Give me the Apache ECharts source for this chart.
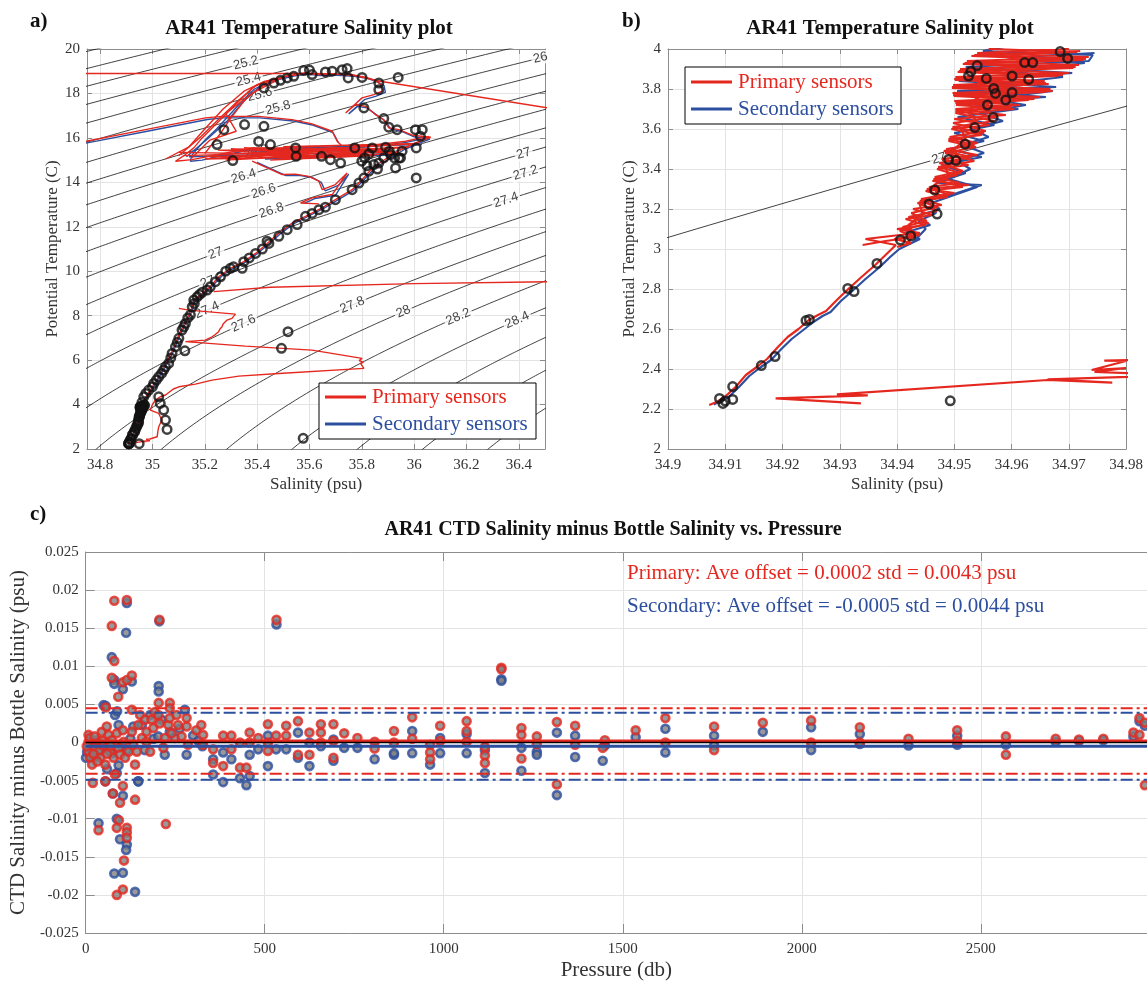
<!DOCTYPE html>
<html>
<head>
<meta charset="utf-8">
<script src="https://cdn.jsdelivr.net/npm/echarts@6/dist/echarts.min.js"></script>
<style>
  html, body { margin: 0; padding: 0; background: #fff; }
  #chart { width: 1147px; height: 982px; }
</style>
</head>
<body>
<div id="chart"></div>
<script>
// ---------------------------------------------------------------
// AR41 CTD / bottle salinity comparison
// ---------------------------------------------------------------

// Isopycnal (sigma-theta) levels drawn behind the T-S diagrams
const sigmaLevels = [24.4, 24.6, 24.8, 25.0, 25.2, 25.4, 25.6, 25.8, 26.0, 26.2, 26.4, 26.6, 26.8,
  27.0, 27.2, 27.4, 27.6, 27.8, 28.0, 28.2, 28.4, 28.6, 28.8, 29.0, 29.2, 29.4];

// Contour labels: [sigma level, potential temperature where the label sits]
const contourLabelsA = [[25.2, 19.37], [25.4, 18.62], [25.6, 17.95], [25.8, 17.35], [26.0, 19.6],
  [26.2, 15.35], [26.4, 14.27], [26.6, 13.6], [26.8, 12.73], [27.0, 15.3], [27.2, 14.42], [27.4, 13.2],
  [27.0, 10.8], [27.2, 9.6], [27.4, 8.25], [27.6, 7.65], [27.8, 8.48], [28.0, 8.18], [28.2, 7.95], [28.4, 7.8]];
const contourLabelsB = [[27.8, 3.46]];

// Tick labels
const salTicksA = [34.8, 35, 35.2, 35.4, 35.6, 35.8, 36, 36.2, 36.4];
const tempTicksA = [2, 4, 6, 8, 10, 12, 14, 16, 18, 20];
const salTicksB = [34.9, 34.91, 34.92, 34.93, 34.94, 34.95, 34.96, 34.97, 34.98];
const tempTicksB = [2, 2.2, 2.4, 2.6, 2.8, 3, 3.2, 3.4, 3.6, 3.8, 4];
const pressureTicks = [0, 500, 1000, 1500, 2000, 2500];
const diffTicks = [-0.025, -0.02, -0.015, -0.01, -0.005, 0, 0.005, 0.01, 0.015, 0.02, 0.025];

// Primary (sensor 1) CTD traces, [salinity, potential temperature]
const primaryProfile = [[34.9072,2.22],[34.9085,2.235],[34.9099,2.26],[34.9118,2.31],[34.9136,2.37],[34.9155,2.41],
  [34.9173,2.45],[34.9192,2.51],[34.9209,2.56],[34.9228,2.60],[34.9246,2.645],[34.9262,2.67],[34.9276,2.69],
  [34.9295,2.745],[34.9313,2.795],[34.9338,2.86],[34.9362,2.92],[34.9380,2.97],[34.9398,3.02],[34.9345,3.05],
  [34.9405,3.07],[34.9440,3.08],[34.9400,3.10],[34.9450,3.12],[34.9415,3.15],[34.9462,3.17],[34.9428,3.20],
  [34.9478,3.22],[34.9442,3.25],[34.9500,3.28],[34.9452,3.30],[34.9525,3.32],[34.9462,3.34],[34.9505,3.37],
  [34.9470,3.40],[34.9525,3.42],[34.9478,3.45],[34.9540,3.47],[34.9486,3.50],[34.9535,3.52],[34.9490,3.55],
  [34.9548,3.57],[34.9495,3.60],[34.9562,3.62],[34.9500,3.65],[34.9590,3.67],[34.9502,3.70],[34.9615,3.72],
  [34.9500,3.74],[34.9650,3.76],[34.9497,3.78],[34.9668,3.80],[34.9498,3.82],[34.9658,3.84],[34.9502,3.86],
  [34.9700,3.88],[34.9510,3.90],[34.9718,3.92],[34.9522,3.94],[34.9735,3.96],[34.9540,3.98],[34.9700,4.00],
  [34.962,4.05],[34.970,4.25],[34.980,4.45],[34.992,4.65],[35.005,4.9],[35.018,5.15],[35.030,5.4],[35.045,5.7],
  [35.062,6.07],[35.075,6.4],[35.088,6.75],[35.100,7.1],[35.113,7.43],[35.126,7.75],[35.139,8.03],[35.150,8.35],
  [35.158,8.7],[35.190,9.0],[35.221,9.3],[35.253,9.75],[35.298,10.13],[35.349,10.43],[35.394,10.8],[35.432,11.18],
  [35.483,11.72],[35.534,12.17],[35.585,12.47],[35.648,12.85],[35.699,13.22],[35.763,13.67],[35.801,14.12],
  [35.840,14.64],[35.878,14.95],[35.916,15.25],[35.961,15.55],[36.005,15.77],[36.063,16.03]];
const primaryBand = [[34.9340,3.02],[34.9380,3.04],[34.9432,3.06],[34.9405,3.09],[34.9455,3.13],[34.9420,3.16],
  [34.9470,3.19],[34.9436,3.23],[34.9490,3.27],[34.9456,3.31],[34.9510,3.33],[34.9466,3.36],[34.9515,3.39],
  [34.9474,3.43],[34.9530,3.46],[34.9482,3.49],[34.9540,3.53],[34.9492,3.56],[34.9555,3.59],[34.9498,3.63],
  [34.9575,3.66],[34.9502,3.69],[34.9600,3.71],[34.9502,3.73],[34.9640,3.75],[34.9498,3.77],[34.9672,3.79],
  [34.9496,3.81],[34.9660,3.83],[34.9500,3.85],[34.9690,3.87],[34.9508,3.89],[34.9712,3.91],[34.9518,3.93],
  [34.9730,3.95],[34.9535,3.97],[34.9720,3.99]];
const primaryBandB = [[34.9400,3.01],[34.9425,3.03],[34.9395,3.05],[34.9440,3.07],[34.9410,3.11],[34.9452,3.14],
  [34.9425,3.18],[34.9472,3.21],[34.9440,3.24],[34.9488,3.26],[34.9450,3.29],[34.9515,3.31],[34.9464,3.35],
  [34.9512,3.38],[34.9472,3.41],[34.9535,3.44],[34.9484,3.48],[34.9538,3.51],[34.9490,3.54],[34.9552,3.58],
  [34.9497,3.61],[34.9570,3.64],[34.9502,3.68],[34.9605,3.70],[34.9503,3.72],[34.9630,3.745],[34.9499,3.765],
  [34.9660,3.785],[34.9496,3.805],[34.9665,3.825],[34.9501,3.845],[34.9680,3.865],[34.9506,3.885],[34.9708,3.905],
  [34.9515,3.925],[34.9725,3.945],[34.9530,3.965],[34.9715,3.985],[34.9560,4.0]];
const primaryBandC = [[34.9415,3.02],[34.9430,3.07],[34.9420,3.12],[34.9445,3.17],[34.9440,3.22],[34.9470,3.27],
  [34.9465,3.32],[34.9490,3.36],[34.9485,3.41],[34.9510,3.45],[34.9500,3.50],[34.9520,3.55],[34.9512,3.60],
  [34.9540,3.64],[34.9525,3.68],[34.9560,3.72],[34.9535,3.76],[34.9590,3.79],[34.9540,3.83],[34.9610,3.86],
  [34.9560,3.90],[34.9640,3.93],[34.9590,3.96],[34.9660,3.99]];
const primaryLoop = [[36.063,16.03],[35.993,16.12],[35.942,16.37],[35.903,16.45],[35.884,16.82],[35.852,17.05],
  [35.814,17.42],[35.776,17.50],[35.738,17.12],[35.801,17.80],[35.846,17.95],[35.878,18.10],[35.872,18.40],
  [35.852,18.58],[35.814,18.73],[35.763,18.82],[35.687,18.88],[35.636,18.85],[35.585,18.92],[35.534,18.82],
  [35.483,18.70],[35.432,18.55],[35.381,18.25],[35.343,17.80],[35.304,17.35],[35.266,16.90],[35.228,16.45],
  [35.190,16.00],[35.158,15.55],[35.126,15.25],[35.088,14.95],[35.151,15.02],[35.253,15.25],[35.381,15.55],
  [35.483,15.55],[35.610,15.62],[35.738,15.55],[35.865,15.70],[35.967,15.85],[36.056,16.07]];
const primaryArmA = [[35.10,15.2],[35.18,16.0],[35.25,16.8],[35.33,17.7],[35.40,18.4],[35.47,18.65]];
const primaryArmB = [[35.20,15.3],[35.26,16.2],[35.30,16.9],[35.36,17.8],[35.44,18.5],[35.52,18.8]];
const primaryArmC = [[35.15,15.1],[35.22,15.9],[35.32,16.3],[35.28,17.1],[35.38,18.0],[35.50,18.75],[35.60,18.95]];
const primaryArmD = [[35.05,15.05],[35.14,15.6],[35.20,16.4],[35.27,17.3],[35.35,18.1],[35.43,18.55]];
const primaryScribble = [[35.12,15.2],[35.55,15.35],[35.30,15.5],[35.80,15.45],[35.40,15.1],[35.95,15.3],
  [35.50,15.6],[36.02,15.75],[35.35,15.3],[35.70,15.15],[35.25,15.45],[35.90,15.5],[35.45,15.0],[35.85,15.2],
  [35.20,15.05],[35.65,15.4]];
const primaryScribbleB = [[35.10,15.35],[35.60,15.25],[35.22,15.15],[35.75,15.35],[35.35,15.55],[35.92,15.4],
  [35.28,15.0],[35.68,15.5],[35.42,15.25],[35.98,15.6],[35.55,15.1],[35.82,15.3]];
const primaryDrop = [[35.381,14.95],[35.496,14.35],[35.547,14.37],[35.597,14.27],[35.636,14.05],[35.649,13.67],
  [35.699,13.90],[35.744,14.42],[35.687,13.45],[35.610,13.30],[35.566,13.07],[35.636,13.03]];
const primarySpikeTop = [[34.70,18.9],[35.62,18.9],[35.76,18.85],[35.87,18.55],[36.55,17.28]];
const primarySpikeLeft = [[34.70,15.74],[34.973,16.37],[35.203,16.9],[35.266,16.97],[35.406,16.97],[35.534,16.82],
  [35.610,16.63],[35.687,16.30],[35.706,15.85],[35.725,15.62]];
const primarySpikeMid = [[35.234,9.08],[35.45,9.28],[36.0,9.44],[36.55,9.53]];
const primarySpikeDeep = [[35.101,8.33],[35.139,8.25],[35.317,8.07],[35.304,7.88],[35.285,7.80],[35.279,7.73],
  [35.270,7.62],[35.266,7.50],[35.258,7.40],[35.253,7.28],[35.240,7.15],[35.228,7.05],[35.202,6.90],[35.126,6.83],
  [35.355,6.63],[35.610,6.45],[35.801,6.08],[35.790,5.98],[35.806,5.90],[35.795,5.85],[35.808,5.63],[35.801,5.55],
  [35.483,5.40],[35.330,5.28],[35.228,5.10],[35.164,4.92],[35.101,4.80],[35.080,4.70],[35.050,4.43],[35.030,4.35],
  [35.011,4.20],[35.000,4.0],[34.992,3.75],[35.024,3.60],[35.030,3.45],[35.037,3.30],[35.030,3.15],[35.024,3.00],
  [35.021,2.80],[35.018,2.55],[34.990,2.45],[34.9762,2.442],[34.9800,2.44],[34.9740,2.395],[34.9800,2.405],
  [34.9745,2.385],[34.9900,2.37],[34.9663,2.348],[34.9776,2.332],[34.9663,2.345],[34.9295,2.273],[34.9349,2.268],
  [34.9188,2.253],[34.9337,2.228]];

// Secondary (sensor 2) CTD traces
const secondaryProfile = [[34.9080,2.222],[34.9092,2.24],[34.9106,2.26],[34.9124,2.31],[34.9142,2.365],[34.9160,2.405],
  [34.9180,2.445],[34.9198,2.50],[34.9216,2.55],[34.9234,2.59],[34.9254,2.635],[34.9270,2.665],[34.9284,2.685],
  [34.9302,2.74],[34.9320,2.785],[34.9345,2.85],[34.9370,2.91],[34.9388,2.96],[34.9404,3.00],[34.9440,3.05],
  [34.9412,3.08],[34.9458,3.12],[34.9428,3.16],[34.9475,3.20],[34.9448,3.24],[34.9505,3.28],[34.9548,3.32],
  [34.9468,3.33],[34.9520,3.38],[34.9478,3.42],[34.9548,3.46],[34.9492,3.50],[34.9552,3.54],[34.9500,3.58],
  [34.9570,3.62],[34.9506,3.66],[34.9612,3.70],[34.9508,3.73],[34.9660,3.76],[34.9505,3.79],[34.9678,3.81],
  [34.9508,3.84],[34.9706,3.88],[34.9520,3.91],[34.9735,3.94],[34.9742,3.97],[34.9550,3.99],
  [34.966,4.05],[34.975,4.25],[34.985,4.45],[34.997,4.65],[35.010,4.9],[35.022,5.15],[35.034,5.4],[35.050,5.7],
  [35.066,6.05],[35.080,6.4],[35.092,6.75],[35.105,7.1],[35.118,7.42],[35.130,7.75],[35.143,8.0],[35.155,8.35],
  [35.163,8.68],[35.195,8.98],[35.226,9.28],[35.258,9.72],[35.303,10.10],[35.354,10.40],[35.398,10.77],
  [35.437,11.15],[35.488,11.68],[35.539,12.13],[35.590,12.44],[35.653,12.82],[35.704,13.18],[35.768,13.63],
  [35.806,14.08],[35.846,14.6],[35.884,14.9],[35.922,15.2],[35.967,15.5],[36.010,15.72],[36.060,15.95]];
const secondaryBand = [[34.9430,3.04],[34.9450,3.10],[34.9438,3.14],[34.9468,3.18],[34.9460,3.23],[34.9500,3.27],
  [34.9540,3.31],[34.9490,3.35],[34.9528,3.40],[34.9505,3.44],[34.9552,3.48],[34.9515,3.52],[34.9560,3.56],
  [34.9530,3.60],[34.9585,3.64],[34.9545,3.68],[34.9625,3.72],[34.9560,3.75],[34.9672,3.79],[34.9570,3.82],
  [34.9690,3.86],[34.9590,3.89],[34.9728,3.93],[34.9620,3.96],[34.9745,3.98]];
const secondaryLoop = [[36.06,15.95],[36.0,16.05],[35.95,16.3],[35.91,16.4],[35.89,16.75],[35.86,17.0],[35.82,17.35],
  [35.785,17.42],[35.75,17.08],[35.81,17.72],[35.855,17.88],[35.89,18.05],[35.885,18.35],[35.86,18.52],[35.82,18.68],
  [35.77,18.77],[35.69,18.83],[35.64,18.80],[35.59,18.87],[35.54,18.78],[35.49,18.65],[35.44,18.5],[35.39,18.2],
  [35.35,17.75],[35.315,17.3],[35.28,16.85],[35.245,16.4],[35.205,15.95],[35.17,15.5],[35.15,15.2],[35.145,14.95],
  [35.19,15.0],[35.27,15.22],[35.39,15.5],[35.49,15.5],[35.62,15.58],[35.74,15.5],[35.87,15.65],[35.97,15.8],[36.05,16.0]];
const secondaryArm = [[35.13,15.15],[35.21,15.95],[35.285,16.75],[35.345,17.6],[35.41,18.3],[35.48,18.6]];
const secondaryScribble = [[35.14,15.15],[35.58,15.3],[35.33,15.45],[35.82,15.4],[35.43,15.05],[35.96,15.25],
  [35.52,15.55],[36.03,15.7]];
const secondaryDrop = [[35.40,14.9],[35.51,14.3],[35.56,14.32],[35.61,14.22],[35.645,14.0],[35.66,13.62],[35.71,13.86],
  [35.75,14.37],[35.70,13.42],[35.62,13.27],[35.58,13.05]];
const secondarySpikeLeft = [[34.70,15.66],[34.98,16.3],[35.21,16.83],[35.27,16.9],[35.41,16.9],[35.54,16.76],
  [35.615,16.57],[35.69,16.24],[35.71,15.8]];

// Bottle samples: salinity and potential temperature
const bottleSal = [34.9685,34.9698,34.9623,34.9637,34.9540,34.9529,34.9525,34.9556,34.9601,34.9630,34.9569,34.9572,
  34.9601,34.9590,34.9558,34.9568,34.9536,34.9519,34.9490,34.9503,34.9466,34.9456,34.9470,34.9424,34.9406,34.9365,
  34.9314,34.9325,34.9241,34.9247,34.9187,34.9163,34.9113,34.9113,34.9090,34.9096,34.9100,34.9493,
  34.967,34.986,35.005,35.024,35.043,35.062,35.075,35.088,35.101,35.113,35.126,35.145,35.152,35.158,35.171,35.209,
  35.221,35.241,35.298,35.343,35.349,35.394,35.445,34.960,34.975,35.000,35.015,35.035,35.050,35.070,35.095,35.120,
  35.135,35.160,35.180,35.190,35.260,35.280,35.310,35.370,35.420,
  35.024,35.030,35.043,35.050,35.056,35.124,35.518,35.493,35.576,
  35.438,35.483,35.515,35.553,35.585,35.610,35.636,35.661,35.699,35.763,35.789,35.808,35.827,35.846,35.865,35.884,
  35.910,35.942,35.954,36.008,36.008,36.005,36.031,36.024,35.935,35.903,35.884,35.808,35.865,35.865,35.801,35.748,
  35.939,35.725,35.744,35.687,35.661,35.610,35.600,35.578,35.540,35.515,35.489,35.464,35.426,35.273,35.352,35.426,
  35.247,35.307,35.406,35.451,35.547,35.549,35.646,35.680,35.719,35.773,35.811,35.827,35.840,35.891,35.905,35.925,
  35.929,35.948,35.800,35.820,35.860];
const bottleTemp = [3.987,3.953,3.932,3.932,3.917,3.887,3.865,3.853,3.865,3.848,3.803,3.778,
  3.782,3.745,3.72,3.657,3.607,3.525,3.448,3.442,3.295,3.225,3.175,3.065,3.045,2.928,
  2.803,2.787,2.642,2.648,2.462,2.417,2.312,2.248,2.253,2.228,2.24,2.241,
  4.35,4.65,4.95,5.25,5.55,5.85,6.30,6.60,6.98,7.35,7.65,8.03,8.40,8.70,8.85,9.15,
  9.30,9.53,10.13,10.13,10.43,10.80,11.25,4.10,4.50,4.80,5.10,5.40,5.70,6.10,6.80,7.50,
  7.90,8.55,8.95,9.05,9.75,10.00,10.20,10.60,11.00,
  4.35,4.05,3.75,3.30,2.88,6.42,7.28,6.53,2.48,
  11.35,11.57,11.87,12.10,12.47,12.60,12.77,12.88,13.22,13.67,13.97,14.19,14.50,14.80,14.87,15.10,
  15.25,15.10,15.40,15.55,14.20,16.37,16.37,16.07,16.37,16.48,16.87,17.35,18.47,18.17,18.72,18.70,
  18.72,19.07,19.12,19.00,18.97,18.85,19.05,19.03,18.77,18.70,18.59,18.47,18.25,16.37,16.60,16.52,
  15.70,14.98,15.84,15.70,15.55,15.17,15.17,15.02,14.87,15.55,15.10,15.28,15.55,15.58,15.40,15.10,
  14.65,15.10,14.95,14.75,14.60];

// CTD minus bottle salinity, [pressure (db), difference (psu)]
const primaryDiffs = [[8,0.0010],[8,0.0001],[8,-0.0012],[13,-0.0020],[18,-0.0029],[20,-0.0053],[27,-0.0007],[31,0.0003],
  [36,-0.0012],[41,-0.0020],[45,0.0014],[50,-0.0003],[55,-0.0029],[59,0.0021],[64,0.0010],[68,-0.0012],[73,0.0003],
  [78,-0.0020],[82,-0.0042],[87,0.0012],[92,-0.0007],[96,-0.0016],[104,0.0016],[106,0.0001],[110,-0.0020],[120,-0.0012],
  [129,0.0014],[133,-0.0003],[138,-0.0029],[143,-0.0012],[147,0.0023],[152,0.0036],[157,0.0006],[166,0.0030],
  [170,0.0014],[170,0.0001],[180,-0.0012],[184,0.0030],[189,0.0019],[193,0.0040],[203,0.0036],[207,0.0025],
  [217,-0.0007],[221,0.0006],[231,0.0023],[235,0.0032],[240,0.0012],[254,0.0036],[258,0.0023],[268,0.0008],
  [282,0.0032],[282,0.0021],[286,-0.0003],[309,0.0016],[323,0.0023],[328,0.0010],[328,-0.0003],
  [3,-0.0005],[12,0.0006],[22,-0.0015],[25,0.0008],[33,-0.0025],[47,0.0002],[60,-0.0015],[70,-0.0004],
  [80,0.0186],[115,0.0187],[206,0.0161],[73,0.0153],[80,0.0107],[73,0.0085],[104,0.0079],[115,0.0082],[129,0.0088],
  [91,0.0060],[56,0.0046],[204,0.0052],[235,0.0052],[235,0.0045],[129,0.0043],[36,-0.0115],[224,-0.0107],
  [93,-0.0102],[87,-0.0112],[115,-0.0112],[115,-0.0118],[115,-0.0125],[107,-0.0155],[87,-0.0200],[104,-0.0193],
  [76,-0.0067],[104,-0.0057],[96,-0.0079],[138,-0.0075],[55,-0.0051],
  [356,-0.0009],[356,-0.0027],[384,0.0009],[384,-0.0031],[407,0.0009],[407,-0.0009],[431,0.0000],[431,-0.0033],
  [449,-0.0033],[458,0.0013],[458,0.0000],[482,0.0006],[509,0.0024],[509,0.0000],[509,-0.0011],[533,0.0161],
  [532,0.0009],[560,0.0022],[560,0.0009],[593,0.0028],[593,-0.0016],[625,0.0013],[625,-0.0016],[657,0.0024],
  [657,0.0013],[657,0.0000],[692,0.0024],[692,0.0002],[692,-0.0020],[722,0.0012],[759,0.0006],[807,0.0001],
  [807,-0.0008],[861,0.0015],[861,0.0000],
  [912,0.0033],[912,0.0005],[962,-0.0003],[962,-0.0013],[962,-0.0022],[990,0.0022],[990,0.0002],[1064,0.0028],
  [1064,0.0015],[1064,0.0001],[1115,-0.0006],[1115,-0.0017],[1115,-0.0027],[1161,0.0098],[1161,0.0096],
  [1217,0.0019],[1217,0.0010],[1217,-0.0021],[1260,0.0008],[1260,-0.0002],[1316,0.0027],[1316,-0.0055],
  [1367,0.0022],[1367,-0.0003],[1444,-0.0007],[1450,0.0003],[1536,0.0016],[1619,0.0032],[1619,0.0000],
  [1755,0.0021],[1755,-0.0010],[1891,0.0026],[2026,0.0029],[2026,0.0000],[2162,0.0020],[2162,0.0000],
  [2298,0.0005],[2434,0.0016],[2434,0.0002],[2570,0.0008],[2570,-0.0016],[2709,0.0005],[2774,0.0004],
  [2842,0.0005],[2926,0.0013],[2943,0.0032],[2943,0.0010],[2958,0.0026],[2958,-0.0056]];
const secondaryDiffs = [[1,-0.0020],[4,-0.0012],[8,-0.0003],[15,-0.0008],[22,0.0001],[28,-0.0018],[40,-0.0010],
  [50,0.0049],[55,-0.0051],[64,-0.0010],[73,-0.0014],[82,0.0036],[87,-0.0040],[92,0.0023],[100,-0.0005],
  [115,-0.0010],[125,0.0005],[133,0.0021],[147,-0.0051],[157,0.0023],[165,-0.0010],[180,0.0036],[190,0.0005],
  [203,0.0008],[212,0.0030],[221,-0.0016],[235,0.0014],[249,0.0006],[262,0.0018],[277,0.0043],[282,-0.0016],
  [300,0.0009],[315,0.0002],[326,-0.0005],
  [115,0.0183],[206,0.0159],[113,0.0144],[73,0.0112],[80,0.0082],[80,0.0077],[104,0.0070],[129,0.0080],
  [204,0.0074],[204,0.0067],[56,0.0048],[88,0.0041],[36,-0.0106],[87,-0.0100],[96,-0.0127],[115,-0.0134],
  [113,-0.0141],[80,-0.0172],[104,-0.0171],[138,-0.0196],[76,-0.0067],[104,-0.0070],[147,-0.0051],[92,-0.0030],
  [60,-0.0035],
  [356,-0.0022],[356,-0.0042],[384,-0.0013],[384,-0.0052],[407,-0.0022],[431,-0.0047],[449,-0.0056],[458,-0.0016],
  [458,-0.0044],[482,-0.0009],[509,0.0009],[509,-0.0031],[533,0.0155],[532,-0.0009],[560,-0.0009],[593,0.0013],
  [593,-0.0020],[625,0.0000],[625,-0.0031],[657,-0.0005],[692,0.0004],[692,-0.0024],[722,-0.0007],[759,-0.0007],
  [807,-0.0022],[861,-0.0016],[861,-0.0014],
  [912,0.0015],[912,-0.0014],[962,-0.0029],[990,0.0006],[990,-0.0014],[1064,0.0011],[1064,-0.0014],[1115,-0.0040],
  [1115,-0.0010],[1161,0.0083],[1161,0.0081],[1217,-0.0007],[1217,-0.0037],[1260,-0.0012],[1260,-0.0016],
  [1316,0.0013],[1316,-0.0069],[1367,0.0009],[1367,-0.0019],[1444,-0.0024],[1450,-0.0004],[1536,0.0007],
  [1619,0.0018],[1619,-0.0013],[1755,0.0009],[1755,-0.0004],[1891,0.0014],[2026,0.0020],[2026,-0.0010],
  [2162,0.0011],[2162,-0.0002],[2298,-0.0004],[2434,0.0009],[2434,-0.0003],[2570,-0.0003],[2709,0.0001],
  [2774,0.0002],[2842,0.0003],[2926,0.0008],[2943,0.0028],[2958,0.0022]];

// Summary statistics of the differences
const primaryMean = 0.0002, primaryStd = 0.0043;
const secondaryMean = -0.0005, secondaryStd = 0.0044;

// ---------------------------------------------------------------
const RED = '#e5281f';
const BLUE = '#2d4f9f';
const SERIF = '"Liberation Serif", "Times New Roman", serif';
const AXIS_GRAY = '#8c8c8c';
const GRID_GRAY = '#e3e3e3';
const TEXT_GRAY = '#333';

// Sea-water density anomaly at the surface (UNESCO EOS-80), in kg/m3 - 1000
function sigmaTheta(S, T) {
  const T2 = T * T, T3 = T2 * T, T4 = T3 * T, T5 = T4 * T;
  const rw = 999.842594 + 6.793952e-2 * T - 9.095290e-3 * T2 + 1.001685e-4 * T3 - 1.120083e-6 * T4 + 6.536332e-9 * T5;
  const A = 8.24493e-1 - 4.0899e-3 * T + 7.6438e-5 * T2 - 8.2467e-7 * T3 + 5.3875e-9 * T4;
  const B = -5.72466e-3 + 1.0227e-4 * T - 1.6546e-6 * T2;
  const C = 4.8314e-4;
  return rw + A * S + B * Math.pow(S, 1.5) + C * S * S - 1000;
}
function dSigmadS(S, T) {
  const T2 = T * T, T3 = T2 * T, T4 = T3 * T;
  const A = 8.24493e-1 - 4.0899e-3 * T + 7.6438e-5 * T2 - 8.2467e-7 * T3 + 5.3875e-9 * T4;
  const B = -5.72466e-3 + 1.0227e-4 * T - 1.6546e-6 * T2;
  return A + 1.5 * B * Math.sqrt(S) + 2 * 4.8314e-4 * S;
}
// Salinity on a given isopycnal at temperature T (Newton iteration)
function salOnIsopycnal(level, T) {
  let S = 35;
  for (let i = 0; i < 40; i++) {
    const f = sigmaTheta(S, T) - level;
    S -= f / dSigmadS(S, T);
    if (Math.abs(f) < 1e-10) break;
  }
  return S;
}
function isopycnal(level, tMin, tMax, step) {
  const pts = [];
  for (let T = tMin; T <= tMax + 1e-9; T += step) {
    const S = salOnIsopycnal(level, T);
    if (S > 34.2 && S < 37.2) pts.push([S, T]);
  }
  return pts;
}

// Panel geometry
const panels = [
  { left: 87, top: 49, width: 458, height: 400, sMin: 34.75, sMax: 36.5, tMin: 2, tMax: 20 },
  { left: 668, top: 49, width: 458, height: 400, sMin: 34.9, sMax: 34.98, tMin: 2, tMax: 4 }
];
const gridC = { left: 80, top: 552, width: 1067, height: 383 };
const pressureMax = 2964;

function contourLabelItems(list, pi) {
  const p = panels[pi];
  const sx = p.width / (p.sMax - p.sMin);
  const sy = p.height / (p.tMax - p.tMin);
  return list.map(([lev, T]) => {
    const S = salOnIsopycnal(lev, T);
    const dSdT = (salOnIsopycnal(lev, T + 0.01) - salOnIsopycnal(lev, T - 0.01)) / 0.02;
    const ang = Math.atan2(sy, dSdT * sx) * 180 / Math.PI;
    return { name: String(lev), value: [S, T], label: { rotate: ang } };
  });
}

const fmtNum = v => String(Math.round(v * 1e6) / 1e6);

function bottomAxis(grid, min, max, ticks, name, nameGap, nameSize, tickLen) {
  return {
    gridIndex: grid, type: 'value', position: 'bottom', min, max,
    axisLine: { show: true, onZero: false, lineStyle: { color: AXIS_GRAY, width: 1 } },
    axisTick: { show: true, inside: true, length: tickLen, customValues: ticks, lineStyle: { color: AXIS_GRAY } },
    axisLabel: { show: true, customValues: ticks, formatter: fmtNum, fontFamily: SERIF, fontSize: 15,
      color: TEXT_GRAY, margin: 9, hideOverlap: false },
    splitLine: { show: true, lineStyle: { color: GRID_GRAY, width: 1 } },
    name, nameLocation: 'middle', nameGap,
    nameTextStyle: { fontFamily: SERIF, fontSize: nameSize, color: TEXT_GRAY }
  };
}
function leftAxis(grid, min, max, ticks, name, nameGap, nameSize, tickLen) {
  return {
    gridIndex: grid, type: 'value', position: 'left', min, max,
    axisLine: { show: true, onZero: false, lineStyle: { color: AXIS_GRAY, width: 1 } },
    axisTick: { show: true, inside: true, length: tickLen, customValues: ticks, lineStyle: { color: AXIS_GRAY } },
    axisLabel: { show: true, customValues: ticks, formatter: fmtNum, fontFamily: SERIF, fontSize: 15,
      color: TEXT_GRAY, margin: 7, hideOverlap: false },
    splitLine: { show: true, lineStyle: { color: GRID_GRAY, width: 1 } },
    name, nameLocation: 'middle', nameGap,
    nameTextStyle: { fontFamily: SERIF, fontSize: nameSize, color: TEXT_GRAY }
  };
}
function frameAxis(grid, pos, min, max, ticks, tickLen) {
  return {
    gridIndex: grid, type: 'value', position: pos, min, max,
    axisLine: { show: true, onZero: false, lineStyle: { color: AXIS_GRAY, width: 1 } },
    axisTick: { show: true, inside: true, length: tickLen, customValues: ticks, lineStyle: { color: AXIS_GRAY } },
    axisLabel: { show: false },
    splitLine: { show: false }
  };
}

const xAxes = [
  bottomAxis(0, 34.75, 36.5, salTicksA, 'Salinity (psu)', 27, 17, 5),
  bottomAxis(1, 34.9, 34.98, salTicksB, 'Salinity (psu)', 27, 17, 5),
  bottomAxis(2, 0, pressureMax, pressureTicks, 'Pressure (db)', 27, 21, 9),
  frameAxis(0, 'top', 34.75, 36.5, salTicksA, 5),
  frameAxis(1, 'top', 34.9, 34.98, salTicksB, 5),
  frameAxis(2, 'top', 0, pressureMax, pressureTicks, 9)
];
const yAxes = [
  leftAxis(0, 2, 20, tempTicksA, 'Potential Temperature (C)', 22, 17, 5),
  leftAxis(1, 2, 4, tempTicksB, 'Potential Temperature (C)', 29, 17, 5),
  leftAxis(2, -0.025, 0.025, diffTicks, 'CTD Salinity minus Bottle Salinity (psu)', 47, 21, 9),
  frameAxis(0, 'right', 2, 20, tempTicksA, 5),
  frameAxis(1, 'right', 2, 4, tempTicksB, 5)
];

const series = [];

function lineSeries(data, color, width, z, pi) {
  return {
    type: 'line', xAxisIndex: pi, yAxisIndex: pi, data, symbol: 'none', showSymbol: false,
    lineStyle: { color, width }, z, silent: true, clip: true, animation: false
  };
}

const secondaryTraces = [secondaryProfile, secondaryBand, secondaryLoop, secondaryArm, secondaryScribble,
  secondaryDrop, secondarySpikeLeft];
const primaryTraces = [primaryProfile, primaryBand, primaryBandB, primaryBandC, primaryLoop, primaryArmA, primaryArmB,
  primaryArmC, primaryArmD, primaryScribble, primaryScribbleB, primaryDrop, primarySpikeTop, primarySpikeLeft,
  primarySpikeMid, primarySpikeDeep];

[0, 1].forEach(pi => {
  // isopycnals
  sigmaLevels.forEach(lev => {
    series.push({
      type: 'line', xAxisIndex: pi, yAxisIndex: pi, data: isopycnal(lev, 0.5, 21, pi === 0 ? 0.05 : 0.02),
      symbol: 'none', showSymbol: false, lineStyle: { color: '#111', width: 0.8 }, z: 1, silent: true, clip: true
    });
  });
  // isopycnal labels
  series.push({
    type: 'scatter', xAxisIndex: pi, yAxisIndex: pi, z: 1, silent: true, clip: true,
    symbolSize: 1, itemStyle: { color: 'rgba(0,0,0,0)' },
    data: contourLabelItems(pi === 0 ? contourLabelsA : contourLabelsB, pi),
    label: { show: true, position: 'inside', formatter: '{b}', color: '#111', fontFamily: '"Liberation Sans", Arial, sans-serif',
      fontSize: 13, backgroundColor: '#fff', padding: [0, 2] }
  });
  const w = pi === 0 ? 1.4 : 2.2;
  secondaryTraces.forEach(d => series.push(lineSeries(d, BLUE, w, 2, pi)));
  primaryTraces.forEach(d => series.push(lineSeries(d, RED, w, 3, pi)));
  series.push({
    type: 'scatter', xAxisIndex: pi, yAxisIndex: pi, z: 4, silent: true, clip: true,
    data: bottleSal.map((s, i) => [s, bottleTemp[i]]),
    symbol: 'circle', symbolSize: 8.5,
    itemStyle: { color: 'rgba(255,255,255,0)', borderColor: '#111', borderWidth: 2.5 }
  });
});

// Panel c: bottle comparison
series.push({
  type: 'scatter', xAxisIndex: 2, yAxisIndex: 2, z: 2, silent: true, clip: true,
  data: secondaryDiffs, symbol: 'circle', symbolSize: 8,
  itemStyle: { color: '#808080', borderColor: BLUE, borderWidth: 2.6 }
});
series.push({
  type: 'scatter', xAxisIndex: 2, yAxisIndex: 2, z: 3, silent: true, clip: true,
  data: primaryDiffs, symbol: 'circle', symbolSize: 8,
  itemStyle: { color: '#808080', borderColor: RED, borderWidth: 2.6 }
});
const dashDot = [12, 4, 3, 4];
const refLines = [
  { v: primaryMean + primaryStd, color: RED, width: 2, type: dashDot },
  { v: secondaryMean + secondaryStd, color: BLUE, width: 2, type: dashDot },
  { v: primaryMean - primaryStd, color: RED, width: 2, type: dashDot },
  { v: secondaryMean - secondaryStd, color: BLUE, width: 2, type: dashDot },
  { v: secondaryMean, color: BLUE, width: 3, type: 'solid' },
  { v: primaryMean, color: RED, width: 3, type: 'solid' },
  { v: 0, color: '#000', width: 1.3, type: 'solid' }
];
refLines.forEach(r => {
  series.push({
    type: 'line', xAxisIndex: 2, yAxisIndex: 2, z: 5, silent: true, symbol: 'none', showSymbol: false,
    data: [[0, r.v], [pressureMax, r.v]], lineStyle: { color: r.color, width: r.width, type: r.type }
  });
});

function txt(x, y, text, font, fill, align) {
  return { type: 'text', z: 100, silent: true,
    style: { x, y, text, font, fill, textAlign: align || 'left', align: align || 'left',
      textVerticalAlign: 'middle', verticalAlign: 'middle' } };
}
function legendBox(x, y, w, h, rowY1, rowY2, lineX1, lineX2, textX) {
  return [
    { type: 'rect', z: 99, silent: true, shape: { x, y, width: w, height: h },
      style: { fill: '#fff', stroke: '#000', lineWidth: 1 } },
    { type: 'line', z: 100, silent: true, shape: { x1: lineX1, y1: rowY1, x2: lineX2, y2: rowY1 },
      style: { stroke: RED, lineWidth: 3 } },
    { type: 'line', z: 100, silent: true, shape: { x1: lineX1, y1: rowY2, x2: lineX2, y2: rowY2 },
      style: { stroke: BLUE, lineWidth: 3 } },
    txt(textX, rowY1, 'Primary sensors', '21px ' + SERIF, RED),
    txt(textX, rowY2, 'Secondary sensors', '21px ' + SERIF, BLUE)
  ];
}

const graphics = [
  txt(30, 22, 'a)', 'bold 21px ' + SERIF, '#111'),
  txt(622, 22, 'b)', 'bold 21px ' + SERIF, '#111'),
  txt(30, 515, 'c)', 'bold 21px ' + SERIF, '#111'),
  txt(309, 29, 'AR41 Temperature Salinity plot', 'bold 21px ' + SERIF, '#111', 'center'),
  txt(890, 29, 'AR41 Temperature Salinity plot', 'bold 21px ' + SERIF, '#111', 'center'),
  txt(613, 530, 'AR41 CTD Salinity minus Bottle Salinity vs. Pressure', 'bold 20px ' + SERIF, '#111', 'center'),
  txt(627, 573, 'Primary: Ave offset = ' + primaryMean.toFixed(4) + ' std = ' + primaryStd.toFixed(4) + ' psu',
    '21px ' + SERIF, RED),
  txt(627, 606, 'Secondary: Ave offset = ' + secondaryMean.toFixed(4) + ' std = ' + secondaryStd.toFixed(4) + ' psu',
    '21px ' + SERIF, BLUE)
].concat(legendBox(319, 383, 217, 56, 397, 424, 325, 366, 372))
 .concat(legendBox(685, 67, 216, 57, 82, 109, 691, 732, 738));

const chart = echarts.init(document.getElementById('chart'), null, { renderer: 'canvas' });
chart.setOption({
  animation: false,
  backgroundColor: '#fff',
  grid: [
    { left: panels[0].left, top: panels[0].top, width: panels[0].width, height: panels[0].height },
    { left: panels[1].left, top: panels[1].top, width: panels[1].width, height: panels[1].height },
    { left: gridC.left, top: gridC.top, width: gridC.width, height: gridC.height }
  ],
  xAxis: xAxes,
  yAxis: yAxes,
  series,
  graphic: graphics
});
</script>
</body>
</html>
